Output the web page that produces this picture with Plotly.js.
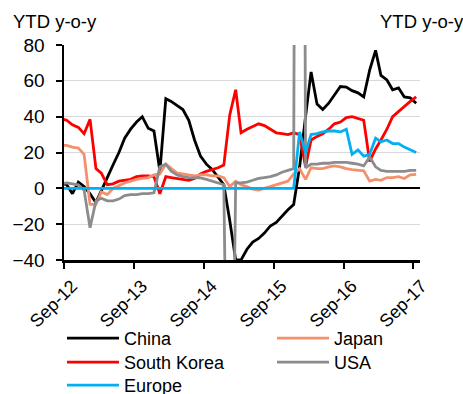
<!DOCTYPE html>
<html><head><meta charset="utf-8">
<script src="https://cdn.plot.ly/plotly-3.0.1.min.js"></script>
<style>html,body{margin:0;padding:0;background:#fff}#chart{width:463px;height:394px}</style>
</head><body><div id="chart"></div>
<script>
const months = ['2012-08-15','2012-09-15','2012-10-15','2012-11-15','2012-12-15',
'2013-01-15','2013-02-15','2013-03-15','2013-04-15','2013-05-15','2013-06-15','2013-07-15','2013-08-15','2013-09-15','2013-10-15','2013-11-15','2013-12-15',
'2014-01-15','2014-02-15','2014-03-15','2014-04-15','2014-05-15','2014-06-15','2014-07-15','2014-08-15','2014-09-15','2014-10-15','2014-11-15','2014-12-15',
'2015-01-15','2015-02-15','2015-03-15','2015-04-15','2015-05-15','2015-06-15','2015-07-15','2015-08-15','2015-09-15','2015-10-15','2015-11-15','2015-12-15',
'2016-01-15','2016-02-15','2016-03-15','2016-04-15','2016-05-15','2016-06-15','2016-07-15','2016-08-15','2016-09-15','2016-10-15','2016-11-15','2016-12-15',
'2017-01-15','2017-02-15','2017-03-15','2017-04-15','2017-05-15','2017-06-15','2017-07-15','2017-08-15','2017-09-15'];

const china = [3,2,-3,3.5,1,-3,-8,-1,6,13,20,28,33,37,40,33.5,32,9.5,50,48.5,46,44,38,27,18,13.5,10.5,6.5,2,-18,-40,-40,-34,-30,-28,-25,-21,-19,-15.5,-12,-9,12,40,65,47,44,47.5,52,56.8,56.5,54.5,53.3,51,66,77,63,60.5,55,56,51,50.5,47.5];
const southKorea = [39,38,35.5,34,30.5,38.5,11,8.5,2,2.5,4,4.5,5,6.5,7,7,6.5,-3,6.5,6,5.5,5,4.5,5.5,8,9.5,10.5,11.5,13,41,55,31,33,34.5,36,35,33,31,30.5,30,31,30,12,27,29,30.5,33,36,37,39.5,40,39,38,15,22,27,33,40,43,46,48.5,51];
const japan = [24,24,23,22.5,19,-9,-9,-2,-3.5,0,1.5,3,4,5,5.5,6,7.5,8,13.5,11,8.5,8,7.5,7,7.5,7.5,7,7,6,1,4,2,1,-0.5,-1,0,1,2,3,4,8,11,5,11.5,11,11,12,12.5,12,11,10.5,10,9.8,4,5,4.5,6,6,6.5,5.5,7.5,7.8];
const usa = [2.5,3,2.5,2,-1,-22,-7,-5.5,-7,-7,-6,-4,-3.5,-3.5,-3,-3,-2.5,12,13.5,9.5,7.5,6.5,6,6,5.8,5,4,3,2,-250,3,3,3.5,4.5,5.5,6,6.5,7.5,9,10,11,1000,11.5,13.5,13.5,14,14,14.5,14.5,14.5,14,13.5,12.5,17.5,12,10,9.5,9.5,9.5,9.5,10,10];
const europe = [0,0,0,0,0,0,0,0,0,0,0,0,0,0,0,0,0,0,0,0,0,0,0,0,0,0,0,0,0,0,0,0,0,0,0,0,0,0,0,0,0,31.5,20,30,30.5,31.5,32,32,31.5,33,19,21.5,18,19,28,26,27,25,25,23,21.5,20];

const tickVals = ['2012-09-01','2013-09-01','2014-09-01','2015-09-01','2016-09-01','2017-09-01'];
const tickText = ['Sep-12','Sep-13','Sep-14','Sep-15','Sep-16','Sep-17'];
const yTicks = [-40,-20,0,20,40,60,80];

const FONT = 'Liberation Sans, Arial, sans-serif';
function tr(name, y, color, legend){
  return {x: months, y: y, name: name, type:'scatter', mode:'lines',
    line:{color:color, width:2.8}, legend: legend, hoverinfo:'skip'};
}
const data = [
  tr('China', china, '#000000', 'legend'),
  tr('South Korea', southKorea, '#FF0000', 'legend2'),
  tr('Japan', japan, '#F4906E', 'legend4'),
  tr('USA', usa, '#8C8C8C', 'legend5'),
  tr('Europe', europe, '#00B0F0', 'legend3')
];
const yaxBase = {range:[-40,80], tickvals:yTicks, ticks:'outside', ticklen:6, tickwidth:2, tickcolor:'#000',
  showline:true, linecolor:'#000', linewidth:2.5, tickfont:{family:FONT,size:19,color:'#000'}};
const legBase = {orientation:'v', xref:'container', yref:'container', xanchor:'left', yanchor:'top',
  font:{family:FONT, size:18, color:'#000'}, traceorder:'normal', tracegroupgap:0, itemwidth:52, bgcolor:'rgba(0,0,0,0)'};
function leg(px, py){ return Object.assign({}, legBase, {x:px/463, y:1-py/394}); }
const layout = {
  width:463, height:394, margin:{l:64, r:43, t:45, b:134, autoexpand:false},
  paper_bgcolor:'#fff', plot_bgcolor:'#fff', showlegend:true,
  font:{family:FONT, color:'#000'},
  xaxis:{type:'date', range:['2012-09-01','2017-10-05'], tickvals:tickVals, ticktext:tickText, tickangle:-45,
    ticks:'outside', ticklen:6, tickwidth:2, tickcolor:'#000', showline:true, linecolor:'#000', linewidth:2.5,
    showgrid:false, zeroline:false, automargin:false, ticklabelstandoff:0, ticklabelshift:8,
    tickfont:{family:FONT,size:18,color:'#000'}},
  yaxis:Object.assign({}, yaxBase, {side:'left', showgrid:true, gridcolor:'#D9D9D9', gridwidth:1, automargin:false,
    zeroline:true, zerolinecolor:'#000', zerolinewidth:1.8, ticklabelstandoff:7}),
  yaxis2:Object.assign({}, yaxBase, {side:'right', overlaying:'y', matches:'y', showgrid:false, zeroline:false, automargin:false, ticklabelstandoff:14}),
  legend:leg(62, 320),
  legend2:leg(62, 344),
  legend3:leg(62, 367),
  legend4:leg(272, 320),
  legend5:leg(272, 344),
  annotations:[
    {text:'YTD y-o-y', xref:'paper', yref:'paper', x:-0.148, y:1.11, xanchor:'left', yanchor:'middle', showarrow:false, font:{family:FONT,size:18.5,color:'#000'}},
    {text:'YTD y-o-y', xref:'paper', yref:'paper', x:1.128, y:1.11, xanchor:'right', yanchor:'middle', showarrow:false, font:{family:FONT,size:18.5,color:'#000'}}
  ]
};
Plotly.newPlot('chart', data, layout, {staticPlot:true, displayModeBar:false});
</script></body></html>
